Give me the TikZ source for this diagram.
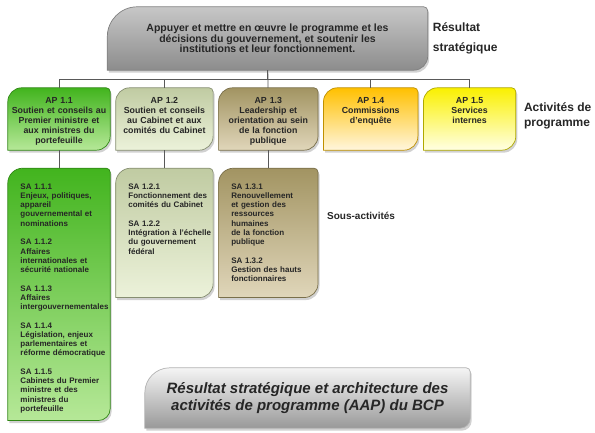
\documentclass[tikz,border=0pt]{standalone}
\usepackage{fontspec}
\setmainfont{Liberation Sans}
\usepackage{tikz}
\usetikzlibrary{positioning,backgrounds}
\definecolor{grnA}{RGB}{66,180,30}
\definecolor{grnB}{RGB}{182,232,152}
\definecolor{sagA}{RGB}{192,203,162}
\definecolor{sagB}{RGB}{236,242,218}
\definecolor{khaA}{RGB}{162,148,98}
\definecolor{khaB}{RGB}{224,214,186}
\definecolor{ornA}{RGB}{255,192,0}
\definecolor{ornB}{RGB}{255,246,222}
\definecolor{yelA}{RGB}{250,240,0}
\definecolor{yelB}{RGB}{255,255,228}
% box outline: big round top left, round bottom right
\newcommand{\leafpath}[3]{(#1.south west) -- ([yshift=-#2]#1.north west) to[out=90,in=180] ([xshift=#2]#1.north west) -- ([xshift=-4]#1.north east) to[out=0,in=90] ([yshift=-4]#1.north east) -- ([yshift=#3]#1.south east) to[out=-90,in=0] ([xshift=-#3]#1.south east) -- cycle}
\newcommand{\leaf}[6]{%
  \fill[black!18, transform canvas={shift={(1.5pt,-2.5pt)}}] \leafpath{#1}{#2}{#3};
  \shade[top color=#4, bottom color=#5, draw=#6, line width=.7pt] \leafpath{#1}{#2}{#3};}

\begin{document}
\begin{tikzpicture}[x=1pt, y=1pt, node distance=5.5pt,
  txt/.style={text=black!85, inner sep=0pt},
  topbox/.style={txt, minimum width=#1, align=center},
  ap/.style={txt, text width=#1, align=center, text height=16pt, text depth=46pt,
    font=\fontsize{8.8}{10}\selectfont\bfseries},
  sa/.style={txt, text width=#1, align=left, text height=21pt,
    font=\fontsize{8}{9.2}\selectfont\bfseries, execute at begin node={\leftskip=12.5pt}},
  lbl/.style={txt, align=left},
  conn/.style={draw=black!65, line width=.8pt}]
  \useasboundingbox (0,0) rectangle (595,433);
  \node[topbox=320pt, minimum height=63pt, font=\fontsize{10.5}{10.5}\selectfont\bfseries] (top) at (267.5,394.5)
    {Appuyer et mettre en œuvre le programme et les\\décisions du gouvernement, et soutenir les\\institutions et leur fonctionnement.};
  \node[lbl, right=5pt of top, font=\fontsize{12}{20}\selectfont\bfseries] (res) {Résultat\\stratégique};
  \node[ap=102pt] (ap11) at (59,314) {AP 1.1\\Soutien et conseils au\\Premier ministre et\\aux ministres du\\portefeuille};
  \node[ap=97pt, right=of ap11] (ap12) {AP 1.2\\Soutien et conseils\\au Cabinet et aux\\comités du Cabinet};
  \node[ap=99pt, right=of ap12] (ap13) {AP 1.3\\Leadership et\\orientation au sein\\de la fonction\\publique};
  \node[ap=94pt, right=of ap13] (ap14) {AP 1.4\\Commissions\\d'enquête};
  \node[ap=92pt, right=of ap14] (ap15) {AP 1.5\\Services\\internes};
  \node[lbl, right=8pt of ap15, yshift=3pt, font=\fontsize{12}{15}\selectfont\bfseries] (act) {Activités de\\programme};
  \node[sa=102pt, text depth=231pt, below=18pt of ap11] (sa11) {SA 1.1.1\\Enjeux, politiques,\\appareil\\gouvernemental et\\nominations\\[9.5pt]
    SA 1.1.2\\Affaires\\internationales et\\sécurité nationale\\[9.5pt]
    SA 1.1.3\\Affaires\\intergouvernementales\\[9.5pt]
    SA 1.1.4\\Législation, enjeux\\parlementaires et\\réforme démocratique\\[9.5pt]
    SA 1.1.5\\Cabinets du Premier\\ministre et des\\ministres du\\portefeuille};
  \node[sa=97pt, text depth=108pt, below=18pt of ap12] (sa12) {SA 1.2.1\\Fonctionnement des\\comités du Cabinet\\[9.5pt]
    SA 1.2.2\\Intégration à l'échelle\\du gouvernement\\fédéral};
  \node[sa=99pt, text depth=108pt, below=18pt of ap13] (sa13) {SA 1.3.1\\Renouvellement\\et gestion des\\ressources\\humaines\\de la fonction\\publique\\[9.5pt]
    SA 1.3.2\\Gestion des hauts\\fonctionnaires};
  \node[lbl, right=9pt of sa13, yshift=17.5pt, font=\fontsize{10}{12}\selectfont\bfseries] (sous) {Sous-activités};
  \node[topbox=325pt, minimum height=60pt, font=\fontsize{15}{17.5}\selectfont\bfseries\itshape] (ttl) at (307.5,35)
    {Résultat stratégique et architecture des\\activités de programme (AAP) du BCP};
  % connectors
  \draw[conn] (top) -- (ap13);
  \foreach \n in {ap11,ap12,ap14,ap15}
    \draw[conn] (top.south) -- ++(0,-9) -| (\n.north);
  \foreach \a/\s in {ap11/sa11,ap12/sa12,ap13/sa13}
    \draw[conn] (\a) -- (\s);
  % boxes
  \begin{scope}[on background layer]
    \leaf{top}{30}{14}{black!22}{black!45}{black!50}
    \leaf{ttl}{25}{10}{black!4}{black!40}{black!30}
    \leaf{ap11}{14}{14}{grnA}{grnB}{grnA!75!black}
    \leaf{ap12}{14}{14}{sagA}{sagB}{sagA!70!black}
    \leaf{ap13}{14}{14}{khaA}{khaB}{khaA!75!black}
    \leaf{ap14}{14}{14}{ornA}{ornB}{ornA!75!black}
    \leaf{ap15}{14}{14}{yelA}{yelB}{yelA!70!black}
    \leaf{sa11}{15}{12}{grnA}{grnB}{grnA!75!black}
    \leaf{sa12}{15}{14}{sagA}{sagB}{sagA!70!black}
    \leaf{sa13}{15}{14}{khaA}{khaB}{khaA!75!black}
  \end{scope}
\end{tikzpicture}
\end{document}
